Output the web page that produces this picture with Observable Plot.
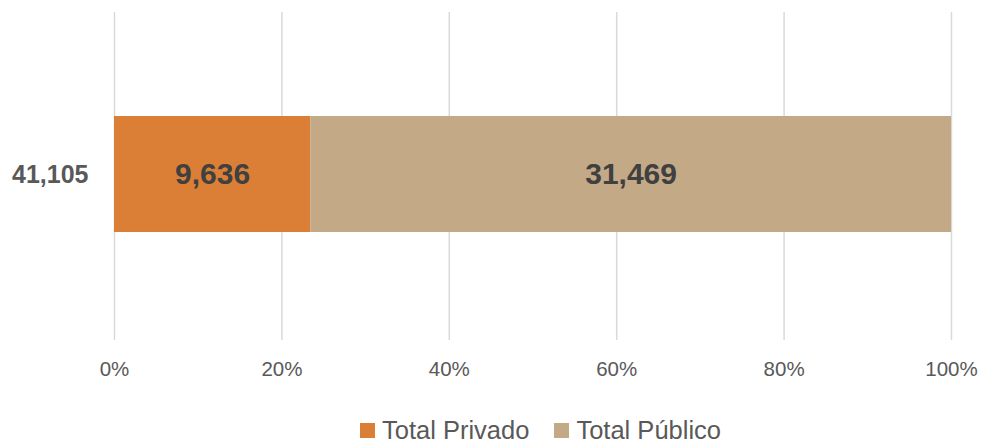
<!DOCTYPE html>
<html>
<head>
<meta charset="utf-8">
<script src="https://cdn.jsdelivr.net/npm/d3@7"></script>
<script src="https://cdn.jsdelivr.net/npm/@observablehq/plot@0.6"></script>
<style>
  html, body { margin: 0; padding: 0; background: #fff; }
  body { width: 983px; height: 444px; overflow: hidden; position: relative; font-family: "Liberation Sans", Arial, sans-serif; }
  #legend { position: absolute; left: 360px; top: 417px; display: flex; align-items: center; font-size: 25.5px; line-height: 26px; color: #595959; white-space: nowrap; }
  .item { display: flex; align-items: center; margin-right: 25px; }
  .sw { width: 15px; height: 15px; margin-right: 7px; }
</style>
</head>
<body>
<div id="chart"></div>
<div id="legend"></div>
<script>
const categories = ["41,105"];
const series = ["Total Privado", "Total Público"];
const values = [9636, 31469];
const colors = ["#DB7F36", "#C4A987"];
const xTicks = [0, 0.2, 0.4, 0.6, 0.8, 1];

const data = series.map((s, i) => ({ cat: categories[0], series: s, value: values[i] }));
const fmt = d3.format(",");

const chart = Plot.plot({
  width: 983,
  height: 410,
  marginLeft: 114,
  marginRight: 32,
  marginTop: 12,
  marginBottom: 70,
  style: { fontFamily: "Liberation Sans, Arial, sans-serif", background: "transparent" },
  x: { domain: [0, 1], ticks: xTicks, tickFormat: d3.format(".0%"), label: null },
  y: { domain: categories, padding: 0.477, align: 0.49, label: null },
  color: { domain: series, range: colors },
  marks: [
    Plot.gridX(xTicks, { stroke: "#D9D9D9", strokeOpacity: 1, strokeWidth: 1.5 }),
    Plot.axisX({ ticks: xTicks, tickFormat: d3.format(".0%"), tickSize: 0, tickPadding: 21, fontSize: 20.5, color: "#595959", label: null }),
    Plot.axisY({ tickSize: 0, tickPadding: 26, fontSize: 25, fontWeight: "bold", color: "#595959", label: null }),
    Plot.barX(data, Plot.stackX({ offset: "normalize", x: "value", y: "cat", fill: "series", order: series })),
    Plot.text(data, Plot.stackX({ offset: "normalize", x: "value", y: "cat", z: "series", order: series, text: d => fmt(d.value), fill: "#404040", fontSize: 30, fontWeight: "bold" }))
  ]
});
document.getElementById("chart").append(chart);

const legend = document.getElementById("legend");
series.forEach((s, i) => {
  const it = document.createElement("div");
  it.className = "item";
  const sw = document.createElement("div");
  sw.className = "sw";
  sw.style.background = colors[i];
  const t = document.createElement("span");
  t.textContent = s;
  it.append(sw, t);
  legend.append(it);
});
</script>
</body>
</html>
